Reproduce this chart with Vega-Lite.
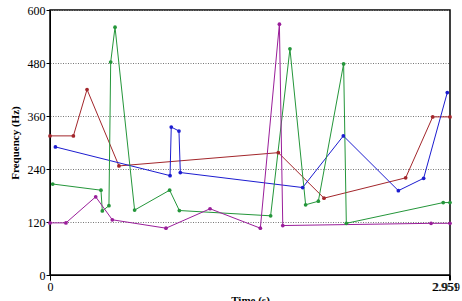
{
  "$schema": "https://vega.github.io/schema/vega-lite/v6.json",
  "autosize": "none",
  "width": 400,
  "height": 265,
  "padding": {"left": 50, "top": 10, "right": 12, "bottom": 26},
  "background": "white",
  "title": {"text": "Sentence 1 intonation patterns of subject 1,2,3,and 4", "font": "Liberation Serif", "fontSize": 11, "fontWeight": "normal", "color": "#222", "offset": 6, "baseline": "bottom", "anchor": "middle"},
  "config": {
    "view": {"stroke": "black", "strokeWidth": 1.5},
    "font": "Liberation Serif"
  },
  "data": {"values": [
    {"s": "red", "i": 0, "t": 0.0, "f": 315},
    {"s": "red", "i": 1, "t": 0.173, "f": 315},
    {"s": "red", "i": 2, "t": 0.274, "f": 420},
    {"s": "red", "i": 3, "t": 0.51, "f": 247},
    {"s": "red", "i": 4, "t": 1.689, "f": 277},
    {"s": "red", "i": 5, "t": 2.027, "f": 174},
    {"s": "red", "i": 6, "t": 2.631, "f": 220},
    {"s": "red", "i": 7, "t": 2.831, "f": 358},
    {"s": "red", "i": 8, "t": 2.959, "f": 358},
    {"s": "blue", "i": 0, "t": 0.04, "f": 290},
    {"s": "blue", "i": 1, "t": 0.888, "f": 225},
    {"s": "blue", "i": 2, "t": 0.897, "f": 335},
    {"s": "blue", "i": 3, "t": 0.954, "f": 326},
    {"s": "blue", "i": 4, "t": 0.964, "f": 232},
    {"s": "blue", "i": 5, "t": 1.869, "f": 198},
    {"s": "blue", "i": 6, "t": 2.17, "f": 315},
    {"s": "blue", "i": 7, "t": 2.577, "f": 191},
    {"s": "blue", "i": 8, "t": 2.764, "f": 219},
    {"s": "blue", "i": 9, "t": 2.939, "f": 413},
    {"s": "green", "i": 0, "t": 0.02, "f": 206},
    {"s": "green", "i": 1, "t": 0.377, "f": 192},
    {"s": "green", "i": 2, "t": 0.387, "f": 145},
    {"s": "green", "i": 3, "t": 0.436, "f": 157},
    {"s": "green", "i": 4, "t": 0.449, "f": 482},
    {"s": "green", "i": 5, "t": 0.481, "f": 561},
    {"s": "green", "i": 6, "t": 0.626, "f": 147},
    {"s": "green", "i": 7, "t": 0.885, "f": 192},
    {"s": "green", "i": 8, "t": 0.957, "f": 146},
    {"s": "green", "i": 9, "t": 1.632, "f": 134},
    {"s": "green", "i": 10, "t": 1.775, "f": 512},
    {"s": "green", "i": 11, "t": 1.891, "f": 159},
    {"s": "green", "i": 12, "t": 1.985, "f": 167},
    {"s": "green", "i": 13, "t": 2.172, "f": 478},
    {"s": "green", "i": 14, "t": 2.192, "f": 117},
    {"s": "green", "i": 15, "t": 2.909, "f": 164},
    {"s": "green", "i": 16, "t": 2.959, "f": 164},
    {"s": "purple", "i": 0, "t": 0.0, "f": 118},
    {"s": "purple", "i": 1, "t": 0.118, "f": 118},
    {"s": "purple", "i": 2, "t": 0.338, "f": 177},
    {"s": "purple", "i": 3, "t": 0.461, "f": 125},
    {"s": "purple", "i": 4, "t": 0.858, "f": 106},
    {"s": "purple", "i": 5, "t": 1.184, "f": 150},
    {"s": "purple", "i": 6, "t": 1.556, "f": 106},
    {"s": "purple", "i": 7, "t": 1.697, "f": 568},
    {"s": "purple", "i": 8, "t": 1.722, "f": 112},
    {"s": "purple", "i": 9, "t": 2.819, "f": 117},
    {"s": "purple", "i": 10, "t": 2.959, "f": 117}
  ]},
  "encoding": {
    "x": {"field": "t", "type": "quantitative", "scale": {"domain": [0, 2.959], "nice": false, "zero": false},
      "axis": {"title": "Time (s)", "values": [0, 2.951, 2.959], "labelExpr": "datum.value == 0 ? '0' : format(datum.value, '.3f')", "labelOverlap": false, "labelOffset": {"condition": {"test": "datum.value > 1", "value": -4}, "value": 0}, "grid": false, "domainColor": "black", "tickColor": "black", "tickSize": 5, "labelColor": "black", "labelFont": "Liberation Serif", "labelFontSize": 12, "labelFontWeight": "normal", "titleFont": "Liberation Serif", "titleFontSize": 11, "titleFontWeight": "bold", "titleColor": "black", "titlePadding": 2, "labelPadding": 1, "labelFlush": false}},
    "y": {"field": "f", "type": "quantitative", "scale": {"domain": [0, 600], "nice": false},
      "axis": {"title": "Frequency (Hz)", "values": [0, 120, 240, 360, 480, 600], "grid": true, "gridColor": "#777", "gridDash": [1, 1.5], "gridWidth": 1, "domainColor": "black", "tickColor": "black", "tickSize": 4, "labelColor": "black", "labelFont": "Liberation Serif", "labelFontSize": 12, "labelFontWeight": "normal", "titleFont": "Liberation Serif", "titleFontSize": 11, "titleFontWeight": "bold", "titleColor": "black", "titlePadding": 7, "labelPadding": 1}},
    "color": {"field": "s", "type": "nominal", "scale": {"domain": ["red", "blue", "green", "purple"], "range": ["#a3262b", "#1c1cd0", "#24963a", "#9a1e9a"]}, "legend": null},
    "order": {"field": "i", "type": "quantitative"}
  },
  "layer": [
    {"mark": {"type": "line", "strokeWidth": 1, "point": false}},
    {"mark": {"type": "point", "filled": true, "size": 14, "opacity": 1}}
  ]
}
